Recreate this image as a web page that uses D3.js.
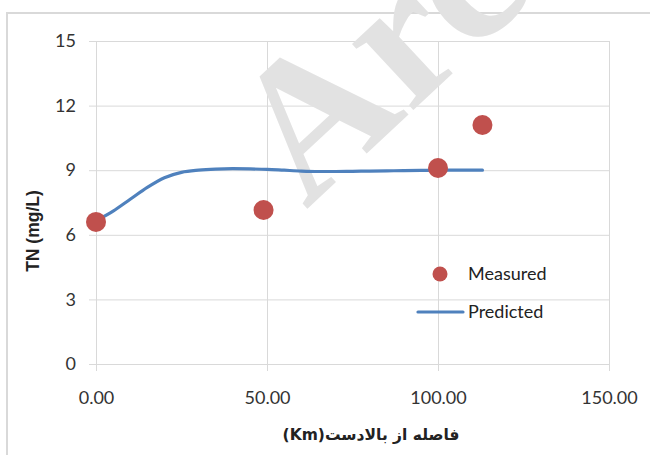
<!DOCTYPE html>
<html>
<head>
<meta charset="utf-8">
<script src="https://cdn.jsdelivr.net/npm/d3@7"></script>
<style>
  body { margin: 0; background: #fff; }
  svg { display: block; }
  .tick text { font-family: Lato, "Open Sans", sans-serif; fill: #333; }
</style>
</head>
<body>
<div id="chart"></div>
<script>
// measured points (distance km, TN mg/L)
var measuredX = [0, 49, 100, 113];
var measuredY = [6.6, 7.15, 9.1, 11.1];

// predicted curve
var predictedX = [0, 5, 10, 15, 20, 25, 30, 35, 40, 45, 50, 55, 60, 65, 70, 75, 80, 85, 90, 95, 100, 105, 110, 113];
var predictedY = [6.65, 7.1, 7.65, 8.2, 8.65, 8.9, 9.0, 9.05, 9.07, 9.06, 9.04, 9.0, 8.96, 8.94, 8.94, 8.95, 8.96, 8.97, 8.98, 8.99, 9.0, 9.0, 9.0, 9.0];

var xTicks = [0, 50, 100, 150];
var yTicks = [0, 3, 6, 9, 12, 15];

var seriesNames = ['Measured', 'Predicted'];
var xTitle = 'فاصله از بالادست(Km)';
var yTitle = 'TN (mg/L)';

var w = 650, h = 455;
var margin = {left: 96, right: 41, top: 41, bottom: 91};

var svg = d3.select('#chart').append('svg')
  .attr('width', w)
  .attr('height', h);

// outer chart border
svg.append('rect')
  .attr('x', 7).attr('y', 13)
  .attr('width', w).attr('height', h)
  .attr('fill', 'none')
  .attr('stroke', '#d9d9d9')
  .attr('stroke-width', 2);

var x = d3.scaleLinear().domain([0, 150]).range([margin.left, w - margin.right]);
var y = d3.scaleLinear().domain([0, 15]).range([h - margin.bottom, margin.top]);

// vertical grid + x labels
var xAxis = d3.axisBottom(x)
  .tickValues(xTicks)
  .tickSize(-(y(0) - y(15)) - 7)
  .tickPadding(20)
  .tickFormat(d3.format('.2f'));
var gx = svg.append('g')
  .attr('transform', 'translate(0,' + (y(0) + 7) + ')')
  .call(xAxis);
gx.select('.domain').remove();
gx.selectAll('.tick line').attr('stroke', '#d9d9d9');
gx.selectAll('.tick text').attr('font-size', 18);

// horizontal grid + y labels
var yAxis = d3.axisLeft(y)
  .tickValues(yTicks)
  .tickSize(-(x(150) - x(0)) - 7)
  .tickPadding(13);
var gy = svg.append('g')
  .attr('transform', 'translate(' + (x(0) - 7) + ',0)')
  .call(yAxis);
gy.select('.domain').remove();
gy.selectAll('.tick line').attr('stroke', '#d9d9d9');
gy.selectAll('.tick text').attr('font-size', 18);

// watermark
svg.append('text')
  .attr('transform', 'translate(306,210) rotate(-43)')
  .attr('font-family', '"Liberation Serif", serif')
  .attr('font-weight', 'bold')
  .attr('font-size', 196)
  .attr('fill', '#e2e2e2')
  .text('Arc');

// predicted line
var line = d3.line()
  .x(function(d, i) { return x(predictedX[i]); })
  .y(function(d) { return y(d); })
  .curve(d3.curveMonotoneX);
svg.append('path')
  .datum(predictedY)
  .attr('d', line)
  .attr('fill', 'none')
  .attr('stroke', '#4f81bd')
  .attr('stroke-width', 3.2)
  .attr('stroke-linecap', 'round');

// measured points
svg.append('g').selectAll('circle')
  .data(measuredY)
  .enter().append('circle')
  .attr('cx', function(d, i) { return x(measuredX[i]); })
  .attr('cy', function(d) { return y(d); })
  .attr('r', 10)
  .attr('fill', '#c0504d');

// legend
var lg = svg.append('g');
lg.append('circle').attr('cx', 440).attr('cy', 274).attr('r', 7.5).attr('fill', '#c0504d');
lg.append('line')
  .attr('x1', 418).attr('x2', 463).attr('y1', 312).attr('y2', 312)
  .attr('stroke', '#4f81bd').attr('stroke-width', 3.2).attr('stroke-linecap', 'round');
lg.selectAll('text').data(seriesNames).enter().append('text')
  .attr('x', 468)
  .attr('y', function(d, i) { return 274 + i * 38; })
  .attr('dy', '0.35em')
  .attr('font-family', 'Lato, "Open Sans", sans-serif')
  .attr('font-size', 18)
  .attr('fill', '#222')
  .text(function(d) { return d; });

// axis titles
svg.append('text')
  .attr('transform', 'translate(39,' + 231 + ') rotate(-90)')
  .attr('text-anchor', 'middle')
  .attr('font-family', '"Liberation Sans", Arial, sans-serif')
  .attr('font-weight', 'bold')
  .attr('font-size', 17.5)
  .attr('fill', '#222')
  .text(yTitle);

svg.append('text')
  .attr('x', 371).attr('y', 440)
  .attr('direction', 'rtl')
  .attr('text-anchor', 'middle')
  .attr('font-family', '"DejaVu Sans", sans-serif')
  .attr('font-weight', 'bold')
  .attr('font-size', 15.5)
  .attr('fill', '#222')
  .text(xTitle);
</script>
</body>
</html>
